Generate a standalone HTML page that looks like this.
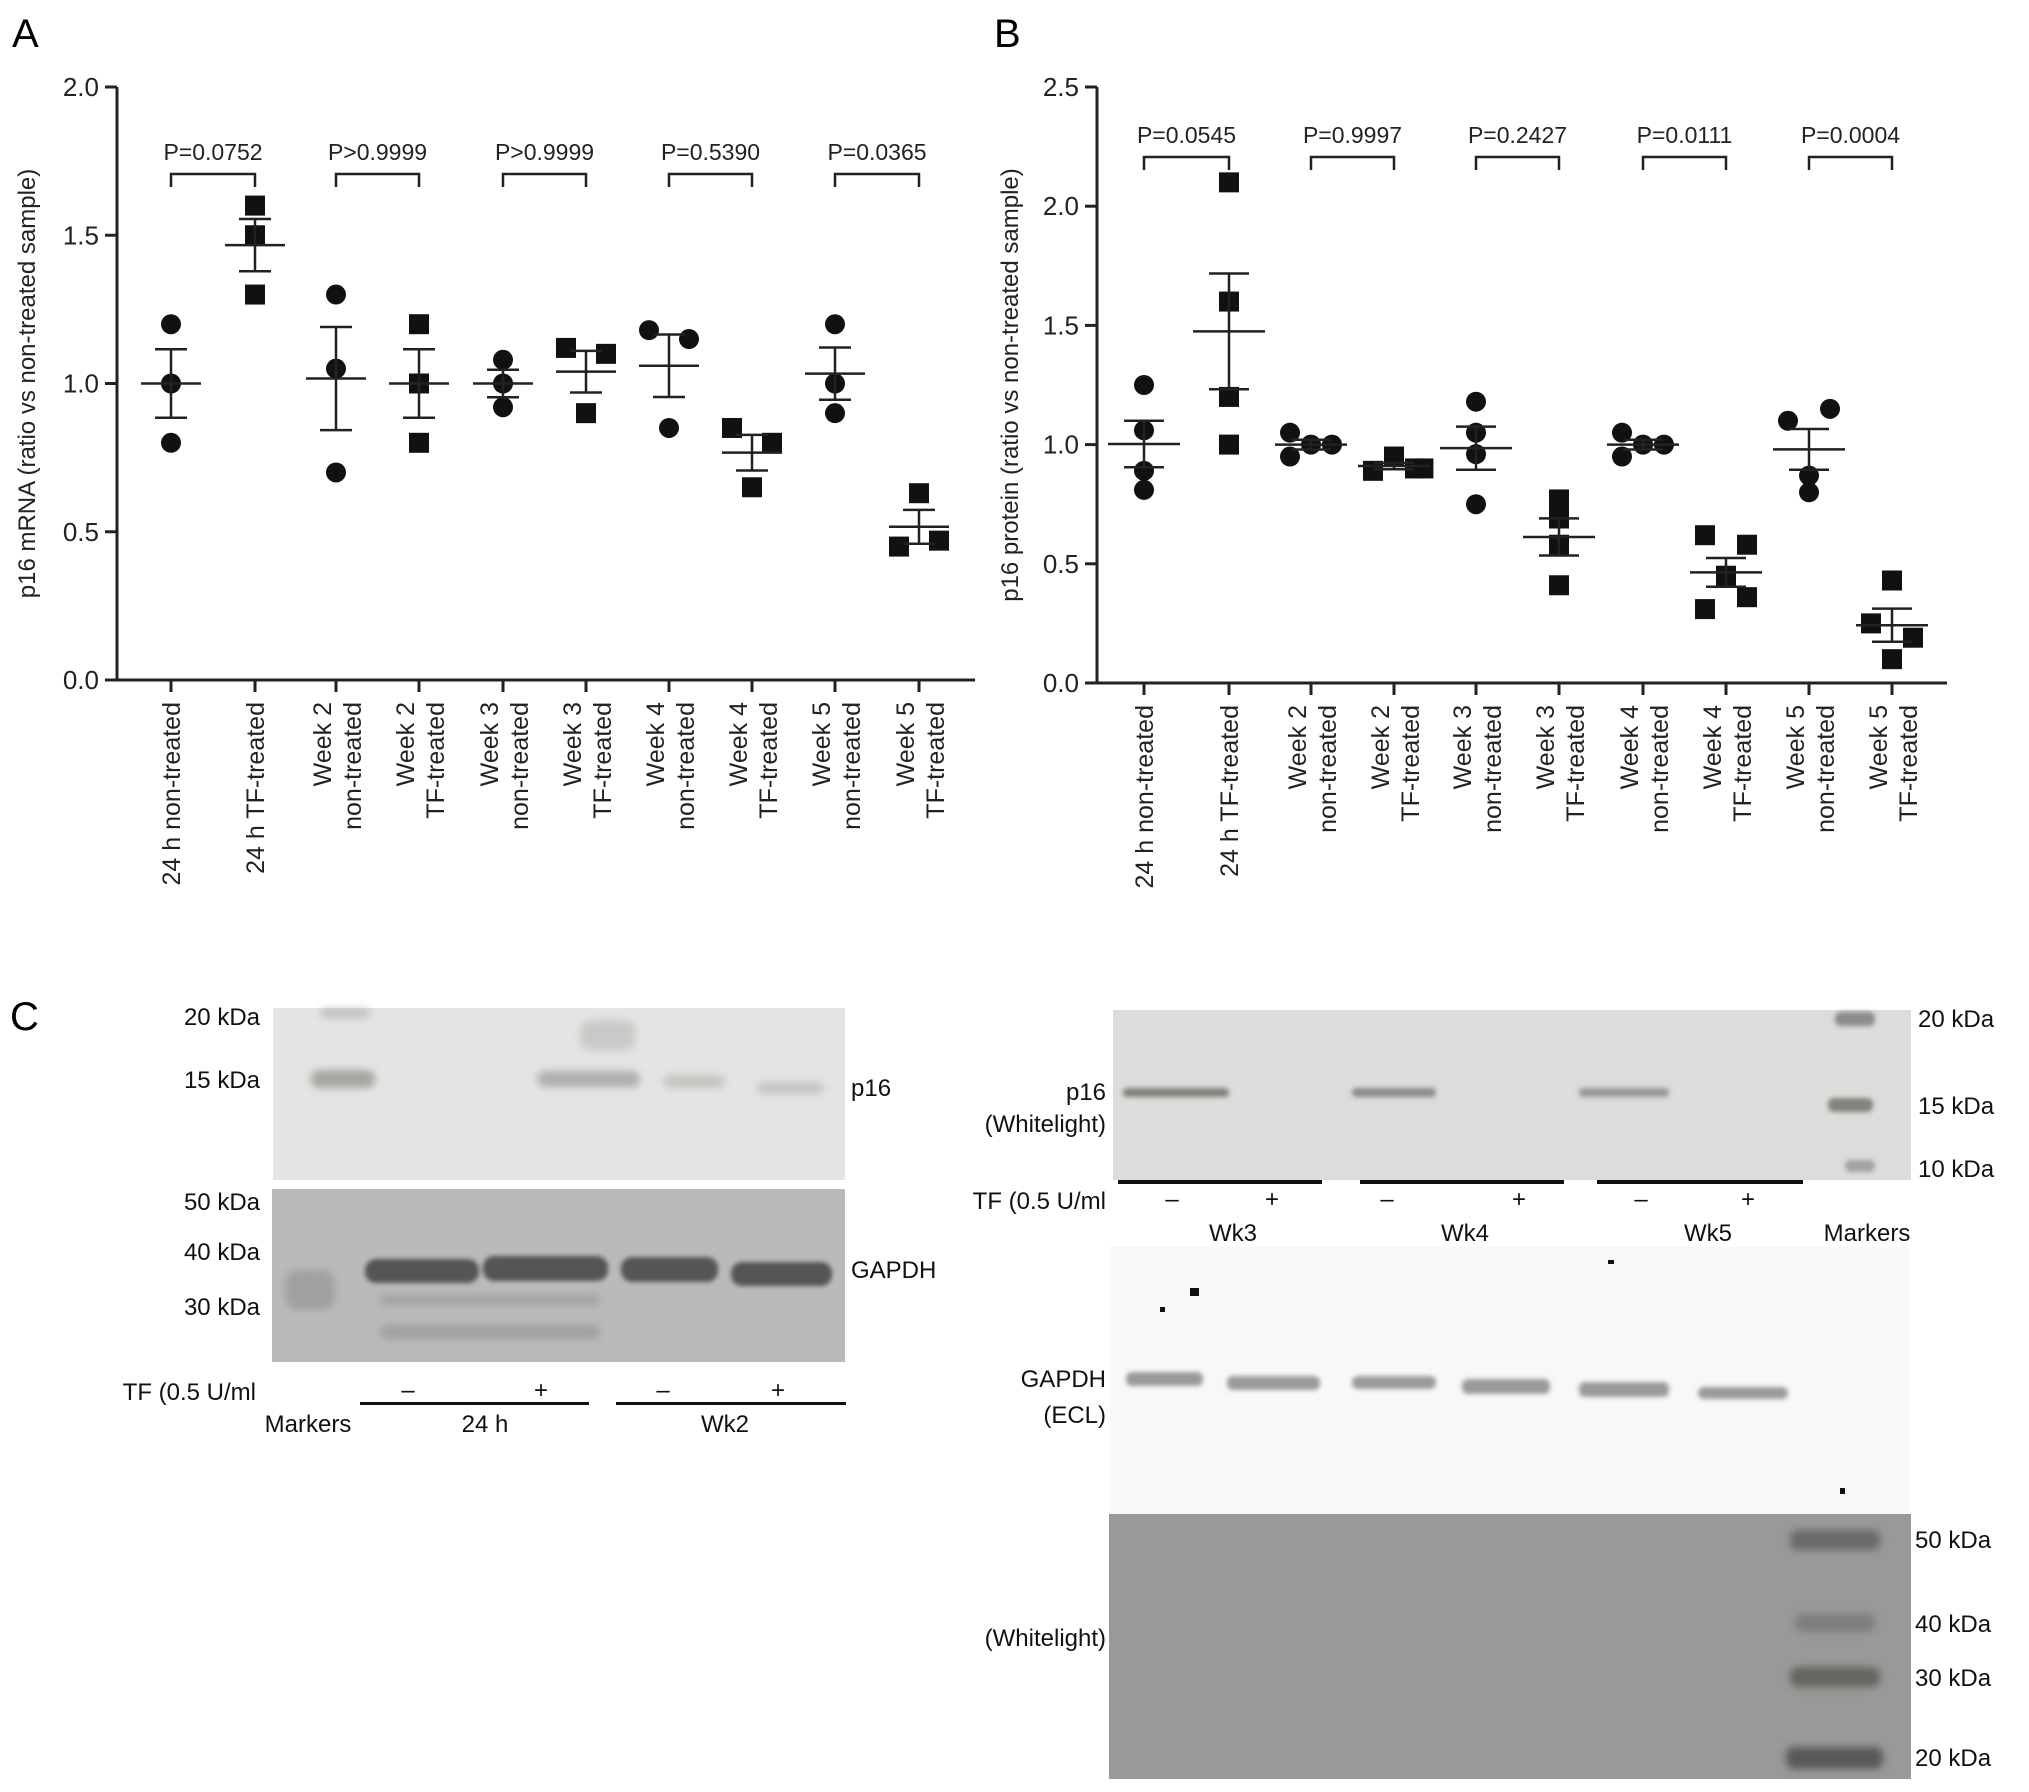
<!DOCTYPE html>
<html><head><meta charset="utf-8"><style>
html,body{margin:0;padding:0;background:#fff}
svg{display:block;font-family:"Liberation Sans",Arial,sans-serif}
</style></head><body>
<svg id="fig" width="2029" height="1792" viewBox="0 0 2029 1792" xmlns="http://www.w3.org/2000/svg">
<defs>
<filter id="blur" x="-20%" y="-100%" width="140%" height="300%"><feGaussianBlur stdDeviation="4"/></filter>
<filter id="blur2" x="-20%" y="-100%" width="140%" height="300%"><feGaussianBlur stdDeviation="2.5"/></filter>
</defs>
<text x="12" y="47" font-size="40">A</text>
<text x="994" y="47" font-size="40">B</text>
<text x="10" y="1030" font-size="40">C</text>
<g id="chartA"></g>
<g id="chartB"></g>

<!-- Panel C left -->
<g>
<rect x="273" y="1008" width="572" height="172" fill="#e4e4e2"/>
<g filter="url(#blur)" fill="#8a8a88">
<rect x="311" y="1070" width="64" height="18" rx="8" opacity="0.7"/>
<rect x="537" y="1071" width="103" height="16" rx="8" opacity="0.6"/>
<rect x="663" y="1075" width="62" height="13" rx="6" opacity="0.35"/>
<rect x="757" y="1082" width="67" height="12" rx="6" opacity="0.35"/>
<rect x="580" y="1020" width="55" height="30" rx="10" opacity="0.3"/>
<rect x="320" y="1008" width="50" height="10" rx="5" opacity="0.4"/>
</g>
<rect x="272" y="1189" width="573" height="173" fill="#bababa"/>
<g filter="url(#blur2)" fill="#555553">
<rect x="365" y="1259" width="114" height="24" rx="11"/>
<rect x="483" y="1256" width="125" height="25" rx="11"/>
<rect x="621" y="1257" width="97" height="25" rx="11"/>
<rect x="731" y="1262" width="101" height="24" rx="11"/>
</g>
<g filter="url(#blur)" fill="#7a7a78" opacity="0.4">
<rect x="380" y="1325" width="220" height="14" rx="7"/>
<rect x="380" y="1295" width="220" height="10" rx="5"/>
<rect x="285" y="1270" width="50" height="40" rx="12"/>
</g>
<g font-size="24" text-anchor="end" fill="#111">
<text x="260" y="1025">20 kDa</text>
<text x="260" y="1088">15 kDa</text>
<text x="260" y="1210">50 kDa</text>
<text x="260" y="1260">40 kDa</text>
<text x="260" y="1315">30 kDa</text>
<text x="256" y="1400">TF (0.5 U/ml</text>
</g>
<g font-size="24" fill="#111">
<text x="851" y="1096">p16</text>
<text x="851" y="1278">GAPDH</text>
</g>
<g font-size="24" text-anchor="middle" fill="#111">
<text x="408" y="1398">–</text><text x="541" y="1398">+</text>
<text x="663" y="1398">–</text><text x="778" y="1398">+</text>
<text x="308" y="1432">Markers</text>
<text x="485" y="1432">24 h</text>
<text x="725" y="1432">Wk2</text>
</g>
<rect x="360" y="1402" width="229" height="3" fill="#111"/>
<rect x="616" y="1402" width="230" height="3" fill="#111"/>
</g>

<!-- Panel C right -->
<g>
<rect x="1113" y="1010" width="798" height="170" fill="#dcdcda"/>
<g filter="url(#blur2)" fill="#6a6a68">
<rect x="1123" y="1088" width="106" height="9" rx="4" opacity="0.8"/>
<rect x="1352" y="1088" width="84" height="9" rx="4" opacity="0.7"/>
<rect x="1579" y="1088" width="90" height="9" rx="4" opacity="0.6"/>
<rect x="1828" y="1098" width="45" height="14" rx="6" opacity="0.8"/>
<rect x="1835" y="1012" width="40" height="14" rx="6" opacity="0.7"/>
<rect x="1845" y="1160" width="30" height="12" rx="6" opacity="0.5"/>
</g>
<rect x="1110" y="1247" width="799" height="267" fill="#f8f8f8"/>
<g filter="url(#blur2)" fill="#8a8a88" opacity="0.85">
<rect x="1126" y="1372" width="77" height="14" rx="6"/>
<rect x="1227" y="1376" width="93" height="14" rx="6"/>
<rect x="1352" y="1376" width="84" height="13" rx="6"/>
<rect x="1462" y="1379" width="88" height="15" rx="6"/>
<rect x="1579" y="1382" width="90" height="15" rx="6"/>
<rect x="1698" y="1387" width="90" height="12" rx="6"/>
</g>
<rect x="1190" y="1288" width="9" height="8" fill="#111"/>
<rect x="1160" y="1307" width="5" height="5" fill="#111"/>
<rect x="1608" y="1260" width="6" height="4" fill="#111"/>
<rect x="1840" y="1488" width="5" height="6" fill="#111"/>
<rect x="1109" y="1514" width="802" height="265" fill="#999998"/>
<g filter="url(#blur)" fill="#555553">
<rect x="1790" y="1530" width="90" height="20" rx="8" opacity="0.7"/>
<rect x="1795" y="1614" width="80" height="18" rx="8" opacity="0.4"/>
<rect x="1790" y="1667" width="90" height="20" rx="8" opacity="0.8"/>
<rect x="1786" y="1747" width="97" height="22" rx="8" opacity="0.95"/>
</g>
<rect x="1118" y="1180" width="204" height="4" fill="#111"/>
<rect x="1360" y="1180" width="204" height="4" fill="#111"/>
<rect x="1597" y="1180" width="206" height="4" fill="#111"/>
<g font-size="24" text-anchor="end" fill="#111">
<text x="1106" y="1100">p16</text>
<text x="1106" y="1132">(Whitelight)</text>
<text x="1106" y="1209">TF (0.5 U/ml</text>
<text x="1106" y="1387">GAPDH</text>
<text x="1106" y="1423">(ECL)</text>
<text x="1106" y="1646">(Whitelight)</text>
</g>
<g font-size="24" fill="#111">
<text x="1918" y="1027">20 kDa</text>
<text x="1918" y="1114">15 kDa</text>
<text x="1918" y="1177">10 kDa</text>
<text x="1915" y="1548">50 kDa</text>
<text x="1915" y="1632">40 kDa</text>
<text x="1915" y="1686">30 kDa</text>
<text x="1915" y="1766">20 kDa</text>
</g>
<g font-size="24" text-anchor="middle" fill="#111">
<text x="1172" y="1207">–</text><text x="1272" y="1207">+</text>
<text x="1387" y="1207">–</text><text x="1519" y="1207">+</text>
<text x="1641" y="1207">–</text><text x="1748" y="1207">+</text>
<text x="1233" y="1241">Wk3</text>
<text x="1465" y="1241">Wk4</text>
<text x="1708" y="1241">Wk5</text>
<text x="1867" y="1241">Markers</text>
</g>
</g>
</svg>
<script>
// Panel A data
const catsA = ["24 h non-treated","24 h TF-treated","Week 2|non-treated","Week 2|TF-treated","Week 3|non-treated","Week 3|TF-treated","Week 4|non-treated","Week 4|TF-treated","Week 5|non-treated","Week 5|TF-treated"];
const valuesA = [[1.2,1.0,0.8],[1.6,1.5,1.3],[1.3,1.05,0.7],[1.2,1.0,0.8],[1.08,1.0,0.92],[1.12,1.10,0.9],[1.18,1.15,0.85],[0.85,0.80,0.65],[1.2,1.0,0.9],[0.63,0.45,0.47]];
const jitterA = [[0,0,0],[0,0,0],[0,0,0],[0,0,0],[0,0,0],[-1,1,0],[-1,1,0],[-1,1,0],[0,0,0],[0,-1,1]];
const pLabelsA = ["P=0.0752","P>0.9999","P>0.9999","P=0.5390","P=0.0365"];
const ticksA = [0,0.5,1.0,1.5,2.0];
// Panel B data
const catsB = catsA;
const valuesB = [[1.25,1.06,0.89,0.81],[2.1,1.6,1.2,1.0],[1.05,0.95,1.0,1.0],[0.89,0.95,0.90,0.90],[1.18,1.05,0.96,0.75],[0.77,0.69,0.58,0.41],[1.05,0.95,1.0,1.0],[0.62,0.31,0.45,0.58,0.36],[1.10,1.15,0.87,0.80],[0.43,0.25,0.19,0.10]];
const jitterB = [[0,0,0,0],[0,0,0,0],[-1,-1,0,1],[-1,0,1,1.4],[0,0,0,0],[0,0,0,0],[-1,-1,0,1],[-1,-1,0,1,1],[-1,1,0,0],[0,-1,1,0]];
const pLabelsB = ["P=0.0545","P=0.9997","P=0.2427","P=0.0111","P=0.0004"];
const ticksB = [0,0.5,1.0,1.5,2.0,2.5];

const NS="http://www.w3.org/2000/svg";
function mk(parent,tag,attrs){const e=document.createElementNS(NS,tag);for(const k in attrs)e.setAttribute(k,attrs[k]);parent.appendChild(e);return e;}

function drawChart(g,cfg){
  const yS=v=>cfg.y0-(v-0)/(cfg.ymax)*(cfg.y0-cfg.ytop);
  const xS=i=>cfg.xs[i];
  const ya=mk(g,'line',{x1:cfg.ax,y1:cfg.ytop,x2:cfg.ax,y2:cfg.y0+1.5,stroke:'#222','stroke-width':3});
  
  
  const xa=mk(g,'line',{x1:cfg.ax-12,y1:cfg.y0,x2:cfg.xend,y2:cfg.y0,stroke:'#222','stroke-width':3});
  
  
  cfg.ticks.forEach(t=>{
    const y=yS(t);
    mk(g,'line',{x1:cfg.ax-12,y1:y,x2:cfg.ax,y2:y,stroke:'#222','stroke-width':3});
    const tx=mk(g,'text',{x:cfg.ax-18,y:y+9,'font-size':26,'text-anchor':'end',fill:'#222'});
    tx.textContent=t.toFixed(1);
    
    
  });
  const yt=mk(g,'text',{x:0,y:0,'font-size':24,'text-anchor':'middle',fill:'#222',transform:`translate(${cfg.titleX},${(cfg.y0+cfg.ytop)/2}) rotate(-90)`});
  yt.textContent=cfg.title;
  
  
  cfg.cats.forEach((c,i)=>{
    const x=xS(i);
    mk(g,'line',{x1:x,y1:cfg.y0,x2:x,y2:cfg.y0+12,stroke:'#222','stroke-width':3});
    const parts=c.split('|');
    parts.forEach((p,k)=>{
      const off=parts.length===1?0:(k===0?-14:16);
      const tx=mk(g,'text',{x:0,y:0,'font-size':25,'text-anchor':'end',fill:'#222',transform:`translate(${x+9+off},${cfg.y0+22}) rotate(-90)`});
      tx.textContent=p;
      
      
    });
  });
  cfg.values.forEach((vals,i)=>{
    const x=xS(i);
    const n=vals.length, mean=vals.reduce((a,b)=>a+b,0)/n;
    const sd=Math.sqrt(vals.reduce((a,b)=>a+(b-mean)*(b-mean),0)/(n-1)), se=sd/Math.sqrt(n);
    const square=i%2===1;
    vals.forEach((v,k)=>{
      const px=x+cfg.jit[i][k]*cfg.jw, py=yS(v);
      let m;
      if(square) m=mk(g,'rect',{x:px-10,y:py-10,width:20,height:20,fill:'#111'});
      else m=mk(g,'circle',{cx:px,cy:py,r:10,fill:'#111'});
      
      
    });
    const ml=mk(g,'line',{x1:x-cfg.mw,y1:yS(mean),x2:x+cfg.mw,y2:yS(mean),stroke:'#222','stroke-width':2.5});
    
    
    const cw=cfg.cw;
    const el=mk(g,'path',{d:`M${x},${yS(mean+se)}V${yS(mean-se)}M${x-cw},${yS(mean+se)}H${x+cw}M${x-cw},${yS(mean-se)}H${x+cw}`,stroke:'#222','stroke-width':2.5,fill:'none'});
    
    
  });
  cfg.pl.forEach((p,j)=>{
    const x1=xS(2*j), x2=xS(2*j+1);
    const br=mk(g,'path',{d:`M${x1},${cfg.by+13}V${cfg.by}H${x2}V${cfg.by+13}`,stroke:'#222','stroke-width':2.5,fill:'none'});
    
    
    const tx=mk(g,'text',{x:(x1+x2)/2,y:cfg.by-14,'font-size':23,'text-anchor':'middle',fill:'#222'});
    tx.textContent=p;
    
    
  });
}
drawChart(document.getElementById('chartA'),{ax:117,y0:680,ytop:87,ymax:2.0,xend:975,
  xs:[171,255,336,419,503,586,669,752,835,919],cats:catsA,values:valuesA,jit:jitterA,jw:20,mw:30,cw:16,
  ticks:ticksA,pl:pLabelsA,by:174,title:"p16 mRNA (ratio vs non-treated sample)",titleX:35});
drawChart(document.getElementById('chartB'),{ax:1097,y0:683,ytop:87,ymax:2.5,xend:1947,
  xs:[1144,1229,1311,1394,1476,1559,1643,1726,1809,1892],cats:catsB,values:valuesB,jit:jitterB,jw:21,mw:36,cw:20,
  ticks:ticksB,pl:pLabelsB,by:157,title:"p16 protein (ratio vs non-treated sample)",titleX:1018});
</script>
</body></html>
